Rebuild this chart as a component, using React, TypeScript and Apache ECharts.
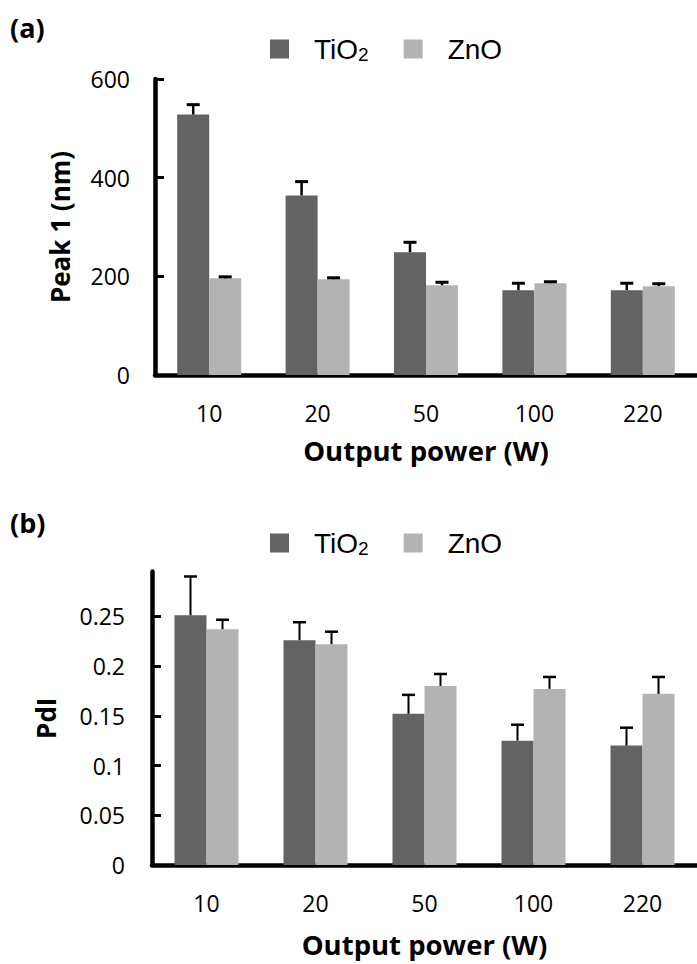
import React, { useEffect, useRef } from 'react';
import * as echarts from 'echarts';

const categories = ['10', '20', '50', '100', '220'];
const seriesNames = ['TiO2', 'ZnO'];

const peakTiO2 = [528, 364, 249, 172, 172];
const peakTiO2Err = [20, 28, 20, 14, 14];
const peakZnO = [196, 194, 182, 186, 180];
const peakZnOErr = [3, 3, 6, 3, 5];

const pdiTiO2 = [0.251, 0.226, 0.152, 0.125, 0.12];
const pdiTiO2Err = [0.039, 0.018, 0.019, 0.016, 0.018];
const pdiZnO = [0.237, 0.222, 0.18, 0.177, 0.172];
const pdiZnOErr = [0.0095, 0.0125, 0.012, 0.012, 0.017];

const peakTicks = [0, 200, 400, 600];
const pdiTicks = [0, 0.05, 0.1, 0.15, 0.2, 0.25];

const DARK = '#636363';
const LIGHT = '#b3b3b3';
const FONT = "'Open Sans', 'Noto Sans', sans-serif";
const LEGEND_FONT = "'Liberation Sans', Arial, sans-serif";

function errorBars(name: string, axisIndex: number, values: number[], errs: number[], offset: number, lw: number) {
  return {
    type: 'custom',
    name,
    xAxisIndex: axisIndex,
    yAxisIndex: axisIndex,
    silent: true,
    z: 3,
    data: values.map((v, i) => [i, v, errs[i]]),
    encode: { x: 0, y: 1 },
    renderItem: (params: any, api: any) => {
      const i = api.value(0);
      const v = api.value(1);
      const e = api.value(2);
      const b = api.coord([i, v]);
      const t = api.coord([i, v + e]);
      const x = b[0] + offset;
      return {
        type: 'group',
        children: [
          { type: 'line', shape: { x1: x, y1: b[1], x2: x, y2: t[1] }, style: { stroke: '#000', lineWidth: lw } },
          { type: 'line', shape: { x1: x - 6.5, y1: t[1], x2: x + 6.5, y2: t[1] }, style: { stroke: '#000', lineWidth: lw + 0.5 } },
        ],
      };
    },
  };
}

function legendCfg(top: number) {
  return {
    data: seriesNames,
    left: 270,
    top,
    padding: 0,
    itemWidth: 19,
    itemHeight: 19,
    itemGap: 35,
    icon: 'rect',
    selectedMode: false,
    formatter: (n: string) => (n === 'TiO2' ? 'TiO{sub|2}' : n),
    textStyle: {
      fontFamily: LEGEND_FONT,
      fontSize: 28,
      lineHeight: 32,
      color: '#000',
      padding: [0, 0, 0, 20],
      rich: {
        sub: { fontFamily: LEGEND_FONT, fontSize: 19, lineHeight: 19, verticalAlign: 'top', padding: [12, 0, 0, 0], color: '#000' },
      },
    },
  };
}

function xAxisCfg(gridIndex: number, nameGap: number) {
  return {
    type: 'category',
    gridIndex,
    data: categories,
    name: 'Output power (W)',
    nameLocation: 'middle',
    nameGap,
    nameTextStyle: { fontFamily: FONT, fontWeight: 'bold', fontSize: 27.5, color: '#000' },
    axisLine: { show: true, lineStyle: { color: '#000', width: 4.5 } },
    axisTick: { show: false },
    axisLabel: { fontFamily: FONT, fontSize: 23, color: '#000', margin: 26 },
  };
}

export default function App() {
  const ref = useRef<HTMLDivElement>(null);
  useEffect(() => {
    if (!ref.current) return;
    const chart = echarts.init(ref.current, undefined, { renderer: 'svg' });
    const option: any = {
      animation: false,
      backgroundColor: '#fff',
      title: [
        { text: '(a)', left: 10, top: 14, padding: 0, textStyle: { fontFamily: FONT, fontWeight: 'bold', fontSize: 27, color: '#000' } },
        { text: '(b)', left: 10, top: 509, padding: 0, textStyle: { fontFamily: FONT, fontWeight: 'bold', fontSize: 27, color: '#000' } },
      ],
      legend: [legendCfg(33), legendCfg(527)],
      grid: [
        { left: 155, top: 79, width: 555, height: 296 },
        { left: 152, top: 571.5, width: 560, height: 293.5 },
      ],
      xAxis: [xAxisCfg(0, 61), xAxisCfg(1, 65)],
      yAxis: [
        {
          type: 'value',
          gridIndex: 0,
          min: 0,
          max: 600,
          interval: 200,
          name: 'Peak 1 (nm)',
          nameLocation: 'middle',
          nameGap: 82,
          nameTextStyle: { fontFamily: FONT, fontWeight: 'bold', fontSize: 26, color: '#000' },
          axisLine: { show: true, lineStyle: { color: '#000', width: 4.5 } },
          axisTick: { show: true, inside: true, length: 9, lineStyle: { color: '#000', width: 3 }, customValues: peakTicks },
          axisLabel: { fontFamily: FONT, fontSize: 23, color: '#000', margin: 25, customValues: peakTicks },
          splitLine: { show: false },
        },
        {
          type: 'value',
          gridIndex: 1,
          min: 0,
          max: 0.295,
          name: 'PdI',
          nameLocation: 'middle',
          nameGap: 93,
          nameTextStyle: { fontFamily: FONT, fontWeight: 'bold', fontSize: 26, color: '#000' },
          axisLine: { show: true, lineStyle: { color: '#000', width: 4.5 } },
          axisTick: { show: true, inside: true, length: 9, lineStyle: { color: '#000', width: 3 }, customValues: pdiTicks },
          axisLabel: { fontFamily: FONT, fontSize: 23, color: '#000', margin: 27, customValues: pdiTicks },
          splitLine: { show: false },
        },
      ],
      series: [
        { type: 'bar', name: 'TiO2', xAxisIndex: 0, yAxisIndex: 0, data: peakTiO2, barWidth: 32, barGap: '0%', itemStyle: { color: DARK } },
        { type: 'bar', name: 'ZnO', xAxisIndex: 0, yAxisIndex: 0, data: peakZnO, barWidth: 32, barGap: '0%', itemStyle: { color: LIGHT } },
        { type: 'bar', name: 'TiO2', xAxisIndex: 1, yAxisIndex: 1, data: pdiTiO2, barWidth: 32, barGap: '0%', itemStyle: { color: DARK } },
        { type: 'bar', name: 'ZnO', xAxisIndex: 1, yAxisIndex: 1, data: pdiZnO, barWidth: 32, barGap: '0%', itemStyle: { color: LIGHT } },
        errorBars('TiO2 error (a)', 0, peakTiO2, peakTiO2Err, -16, 2.5),
        errorBars('ZnO error (a)', 0, peakZnO, peakZnOErr, 16, 2.5),
        errorBars('TiO2 error (b)', 1, pdiTiO2, pdiTiO2Err, -16, 2),
        errorBars('ZnO error (b)', 1, pdiZnO, pdiZnOErr, 16, 2),
      ],
    };
    chart.setOption(option);
    return () => chart.dispose();
  }, []);
  return <div ref={ref} style={{ position: 'fixed', left: 0, top: 0, width: 697, height: 964 }} />;
}
